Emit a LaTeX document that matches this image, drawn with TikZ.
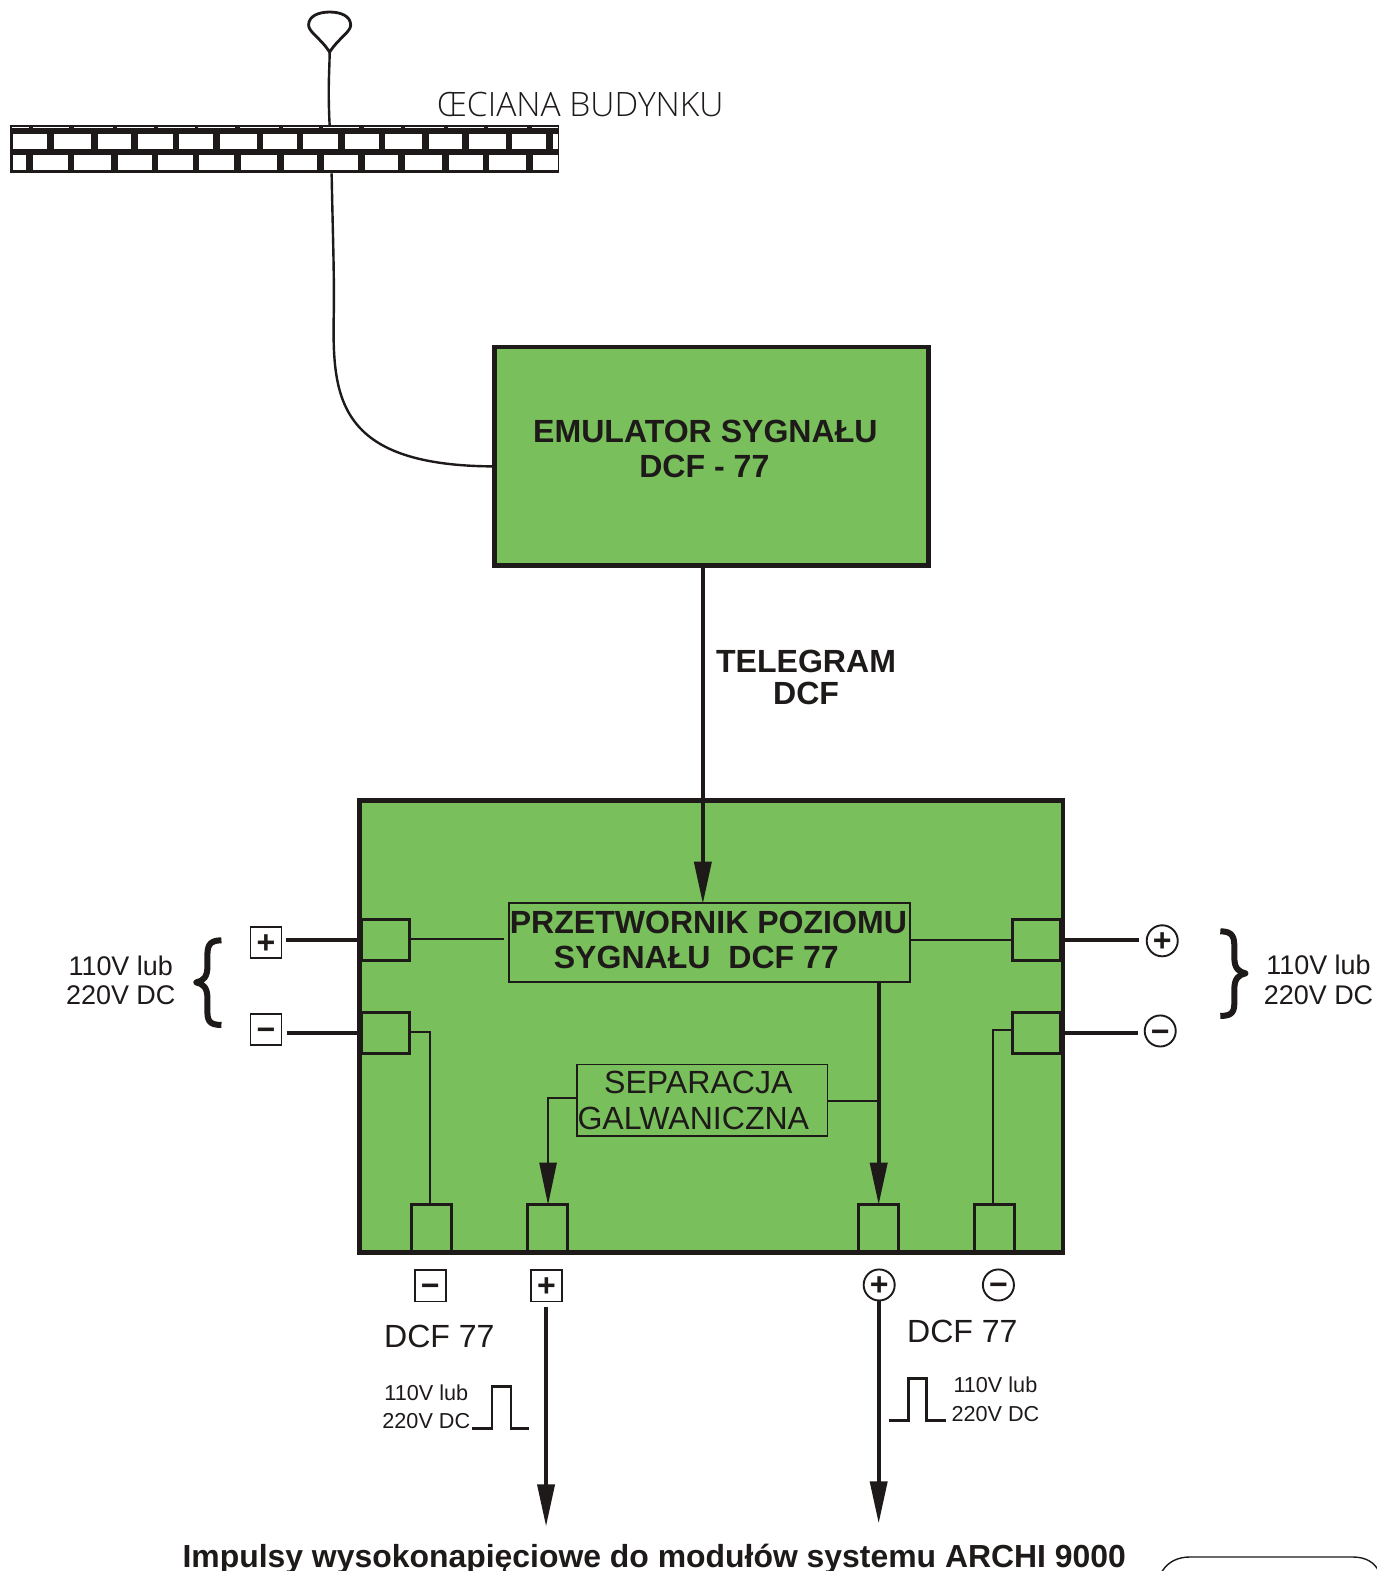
\documentclass[tikz,border=0pt]{standalone}
\usepackage{fontspec}
\setmainfont{Liberation Sans}
\newfontfamily\lightf{Open Sans Light}
\usetikzlibrary{arrows.meta,calc}
\definecolor{gr}{RGB}{121,192,92}
\definecolor{ink}{RGB}{29,26,25}
\newcommand{\fs}[1]{\fontsize{#1}{#1}\selectfont}
\tikzset{
 x=1pt,y=-1pt,
 every node/.style={text=ink,inner sep=0pt,outer sep=0pt},
 mainbox/.style={draw=ink,fill=gr,minimum width=#1},
 port/.style={draw=ink,line width=2.8pt,fill=gr,minimum width=40pt,minimum height=47pt},
 sideport/.style={draw=ink,line width=2.8pt,fill=gr,minimum width=48pt,minimum height=41pt},
 inbox/.style={draw=ink,line width=1.8pt,fill=gr},
 sq/.style={draw=ink,line width=1.9pt,fill=white,minimum width=31pt,minimum height=31pt,font=\fs{32}\bfseries,text height=22pt,text depth=0pt},
 circ/.style={draw=ink,line width=1.9pt,fill=white,circle,minimum size=31pt,font=\fs{32}\bfseries,text height=22pt,text depth=0pt},
 thick line/.style={draw=ink,line width=3.7pt},
 thin line/.style={draw=ink,line width=2pt},
 big/.style={font=\fs{32}\bfseries,align=center},
 reg/.style={font=\fs{32},align=center},
 mid/.style={font=\fs{26.9},align=center},
 small/.style={font=\fs{21.6},align=center},
 bigarrow/.style={-{Triangle[length=42pt,width=17pt]}},
 brace/.style={draw=ink,line width=6pt,line join=round},
 pulse/.style={draw=ink,line width=2.6pt},
 wire/.style={draw=ink,line width=2.4pt}
}
\begin{document}
\begin{tikzpicture}
\useasboundingbox (0,0) rectangle (1374,1568);
% antenna
\coordinate (anttip) at (329,52);
\coordinate (wallin) at (329,125);
\coordinate (wallout) at (331,173);
\draw[wire,line width=2.8pt] (anttip) .. controls (320,38) and (308,32) .. (308,25)
  .. controls (308,16) and (318,12) .. (329,12)
  .. controls (340,12) and (350,16) .. (350,25)
  .. controls (350,32) and (338,38) .. (anttip) -- cycle;
\draw[wire] (anttip) .. controls (329,70) and (327,85) .. (wallin);
% wall
\fill[ink] (10,125) rectangle (558,173);
\foreach \a/\b in {25/62,70/147,157/240,247/325,335/412,420/497,507/590,598/675,683/760,770/848,857/940,947/1025,1033/1115,1125/1180}
  \fill[white] ({\a/2.12},126.8) rectangle ({\b/2.12},128);
\foreach \a/\b in {27/100,114/193,207/278,292/365,379/450,465/543,557/628,642/715,729/801,815/893,907/978,992/1070,1084/1156,1170/1180}
  \fill[white] ({\a/2.12},133.5) rectangle ({\b/2.12},149);
\foreach \a/\b in {27/56,70/143,157/235,249/321,335/408,422/495,509/586,600/671,685/758,772/843,857/935,949/1021,1035/1113,1127/1180}
  \fill[white] ({\a/2.12},154.5) rectangle ({\b/2.12},170);
\node[anchor=west,font=\lightf\fs{33.5}] (walllabel) at (436,104) {ŒCIANA BUDYNKU};
% emulator
\node[mainbox=433pt,line width=4.6pt,minimum height=218pt] (emu) at (710,455.5) {};
\node[big] (emutext) at (704,448) {EMULATOR SYGNAŁU\\[3pt]DCF - 77\hspace*{2pt}};
\coordinate (emuin) at ($(emu.west)+(0,10)$);
\draw[wire] (wallout) .. controls (332,230) and (334,280) .. (333,320)
  .. controls (332,400) and (340,465) .. (emuin);
% main box
\node[mainbox=702pt,line width=4.4pt,minimum height=451pt] (conv) at (710,1024.5) {};
% side ports
\node[sideport] (pl1) at (385,938) {};
\node[sideport] (pl2) at (385,1031) {};
\node[sideport] (pr1) at (1034.5,938) {};
\node[sideport] (pr2) at (1034.5,1031) {};
\node[port] (pb1) at (430.5,1226) {};
\node[port] (pb2) at (546.5,1226) {};
\node[port] (pb3) at (876.5,1226) {};
\node[port] (pb4) at (992.5,1226) {};
% redraw main border over ports
\draw[ink,line width=4.4pt] (conv.north west) rectangle (conv.south east);
% inner boxes
\node[inbox,minimum width=400pt,minimum height=79pt] (prz) at (708,940.5) {};
\node[big] (prztext) at (707,938) {PRZETWORNIK POZIOMU\\[3pt]SYGNAŁU\ \ DCF 77\hspace*{24pt}};
\node[inbox,minimum width=250pt,minimum height=71pt] (sep) at (701,1098) {};
\node[reg] (septext) at (692,1098) {\hspace*{10pt}SEPARACJA\\[4pt]GALWANICZNA};
% telegram
\coordinate (telx) at (701.5,860);
\coordinate (teltip) at (701.5,902);
\draw[thick line,bigarrow] (emu.south -| telx) -- (teltip);
\node[big] (teltext) at (804.5,676) {TELEGRAM\\[0pt]DCF};
% inner wires
\coordinate (gapl) at (503,937);
\draw[thin line] (pl1.east |- gapl) -- (gapl);
\draw[thin line] (prz.east |- pr1) -- (pr1.west);
\coordinate (mainx) at (877,1099);
\draw[thick line,bigarrow] (prz.south -| mainx) -- (pb3.north -| mainx);
\draw[thin line] (sep.east |- mainx) -- (mainx);
\coordinate (sepx) at (547,1096);
\draw[wire,bigarrow] (sep.west |- sepx) -- (sepx) -- (pb2.north -| sepx);
\coordinate (ll) at (429,1030);
\draw[thin line] (pl2.east |- ll) -- (ll) -- (pb1.north -| ll);
\coordinate (rl) at (991,1028);
\draw[thin line] (pr2.west |- rl) -- (rl) -- (pb4.north -| rl);
% left terminals
\node[sq] (tlp) at (265.5,940.5) {+};
\node[sq] (tlm) at (265.5,1027.5) {−};
\coordinate (tlpy) at (285,938);
\coordinate (tlmy) at (286,1031);
\draw[thick line] (tlpy) -- (conv.west |- tlpy);
\draw[thick line] (tlmy) -- (conv.west |- tlmy);
% right terminals
\node[circ] (trp) at (1160,939) {+};
\node[circ] (trm) at (1158,1029) {−};
\coordinate (trpy) at (1137,938);
\coordinate (trmy) at (1136,1031);
\draw[thick line] (conv.east |- trpy) -- (trpy);
\draw[thick line] (conv.east |- trmy) -- (trmy);
% braces
\node[mid] (vl) at (120.5,978.5) {110V lub\\[3pt]220V DC};
\node[mid] (vr) at (1316,978) {110V lub\\[3pt]220V DC};
\draw[brace] (221,938.5) .. controls (208,938.5) and (207,945) .. (207,955) -- (207,965)
  .. controls (207,975) and (203,979) .. (196,980.5)
  .. controls (203,982) and (207,986) .. (207,996) -- (207,1008)
  .. controls (207,1018) and (208,1023) .. (221,1023);
\draw[brace] (1218,929.5) .. controls (1231,929.5) and (1232,936) .. (1232,946) -- (1232,956)
  .. controls (1232,966) and (1236,970) .. (1243,971.5)
  .. controls (1236,973) and (1232,977) .. (1232,987) -- (1232,999)
  .. controls (1232,1009) and (1231,1014) .. (1218,1014);
% bottom terminals
\node[sq] (tbm) at (429.5,1283.5) {−};
\node[sq] (tbp) at (545.5,1283.5) {+};
\node[circ] (tcp) at (877.5,1282.5) {+};
\node[circ] (tcm) at (996.5,1282.5) {−};
\coordinate (a1s) at (545,1304);
\coordinate (a1e) at (545,1523.5);
\coordinate (a2e) at (877,1520.5);
\draw[thick line,bigarrow] (a1s) -- (a1e);
\draw[thick line,bigarrow] (tcp.south -| a2e) -- (a2e);
\node[reg] (dcfl) at (438.5,1333.5) {DCF 77};
\node[reg] (dcfr) at (960.5,1328.5) {DCF 77};
\node[small] (sl) at (425.5,1404) {110V lub\\[7pt]220V DC};
\node[small] (sr) at (993.5,1396.5) {110V lub\\[7pt]220V DC};
\draw[pulse] (471,1426) -- (491,1426) -- (491,1384) -- (510,1384) -- (510,1426) -- (528,1426);
\draw[pulse] (887,1418) -- (907,1418) -- (907,1376) -- (925,1376) -- (925,1418) -- (944,1418);
\node[font=\fs{31.85}\bfseries,anchor=base] (foot) at (653,1564) {Impulsy wysokonapięciowe do modułów systemu ARCHI 9000};
\draw[ink,line width=1.4pt] (1160,1568) .. controls (1166,1559) and (1175,1554) .. (1188,1554) -- (1350,1554) .. controls (1364,1554) and (1372,1560) .. (1376,1568);
\end{tikzpicture}
\end{document}
